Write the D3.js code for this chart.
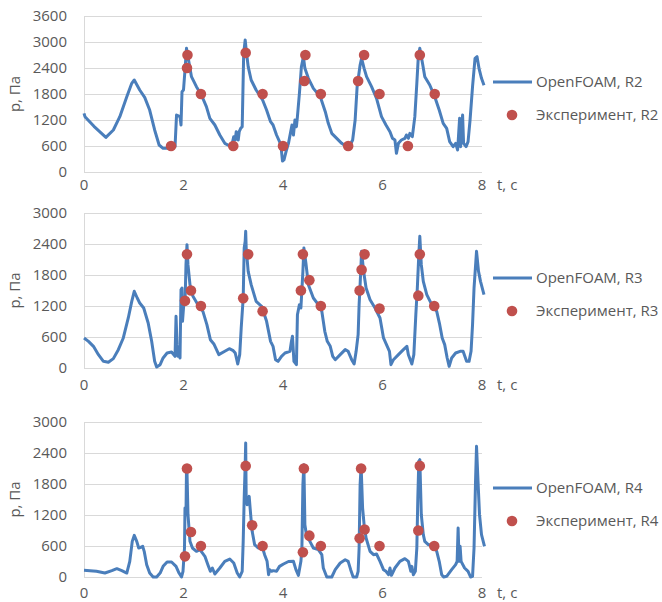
<!DOCTYPE html>
<html>
<head>
<meta charset="utf-8">
<script src="https://cdn.jsdelivr.net/npm/d3@7"></script>
<style>
  body { margin: 0; background: #fff; }
  svg { display: block; }
  text { font-family: "Open Sans", "Liberation Sans", Arial, sans-serif; fill: #595959; }
</style>
</head>
<body>
<svg id="chart" width="662" height="602"></svg>
<script>
// t, s ; p, Pa  -- OpenFOAM probe R2
var simR2 = [[0,1354],[0.02,1277],[0.2,1054],[0.44,800],[0.59,969],[0.72,1277],[0.86,1738],[0.96,2046],[1.01,2123],
  [1.12,1892],[1.22,1723],[1.32,1430],[1.42,970],[1.51,623],[1.59,546],[1.73,546],[1.83,585],[1.86,1315],[1.93,1277],
  [1.95,1085],[1.97,1853],[2.0,1892],[2.03,2354],[2.06,2854],[2.09,2661],[2.16,2200],[2.26,1969],[2.36,1777],[2.46,1508],
  [2.53,1238],[2.63,1085],[2.73,854],[2.83,661],[2.93,600],[2.98,661],[3.01,815],[3.04,738],[3.06,930],[3.10,738],
  [3.12,930],[3.15,1007],[3.18,1046],[3.21,2738],[3.24,3046],[3.26,2815],[3.30,2431],[3.36,2123],[3.46,1892],[3.59,1661],
  [3.67,1430],[3.75,1161],[3.80,1085],[3.87,854],[3.93,700],[3.96,585],[3.99,254],[4.02,280],[4.07,508],[4.11,661],
  [4.18,1084],[4.21,854],[4.24,1200],[4.27,1046],[4.29,1277],[4.33,1815],[4.37,2430],[4.41,2661],[4.44,2392],[4.51,2161],
  [4.61,1930],[4.75,1738],[4.85,1392],[4.91,1123],[4.98,892],[5.08,777],[5.18,661],[5.28,585],[5.35,623],[5.40,738],
  [5.45,1200],[5.49,1969],[5.55,2469],[5.58,2623],[5.63,2392],[5.68,2200],[5.78,1969],[5.88,1700],[5.98,1277],[6.07,1084],
  [6.15,930],[6.20,777],[6.25,738],[6.28,430],[6.32,661],[6.38,738],[6.45,777],[6.48,854],[6.52,777],[6.55,892],
  [6.60,815],[6.65,1277],[6.69,2046],[6.72,2661],[6.75,2854],[6.81,2469],[6.85,2200],[6.95,2007],[7.05,1738],[7.14,1430],
  [7.22,1123],[7.29,1007],[7.35,700],[7.42,585],[7.47,661],[7.51,508],[7.55,1238],[7.57,585],[7.61,1315],[7.63,661],
  [7.68,585],[7.72,700],[7.76,1200],[7.81,1969],[7.86,2623],[7.90,2661],[7.94,2392],[7.99,2161],[8.04,2000]];
var expR2 = [[1.75,600],[2.08,2700],[2.07,2400],[2.35,1800],[3.0,600],[3.25,2750],[3.59,1800],[4.0,600],[4.45,2700],
  [4.43,2100],[4.76,1800],[5.31,600],[5.63,2700],[5.51,2100],[5.94,1800],[6.51,600],[6.75,2700],[7.05,1800]];

// probe R3
var simR3 = [[0,581],[0.09,516],[0.19,419],[0.29,258],[0.39,129],[0.49,110],[0.59,181],[0.69,355],[0.79,581],[0.89,968],
  [0.96,1290],[1.01,1484],[1.07,1355],[1.12,1258],[1.20,1161],[1.29,871],[1.36,516],[1.42,129],[1.46,19],[1.53,65],
  [1.59,194],[1.67,290],[1.76,310],[1.83,226],[1.85,1000],[1.87,452],[1.89,226],[1.91,387],[1.93,194],[1.95,1516],
  [1.97,1548],[1.98,903],[2.01,1290],[2.03,1226],[2.05,2000],[2.07,2387],[2.09,2000],[2.13,1613],[2.19,1387],[2.29,1226],
  [2.39,1097],[2.47,839],[2.54,548],[2.61,465],[2.71,258],[2.83,323],[2.92,374],[3.0,335],[3.04,290],[3.09,77],
  [3.13,258],[3.16,774],[3.20,1355],[3.22,2323],[3.24,2452],[3.25,2645],[3.26,2323],[3.30,1871],[3.36,1613],[3.46,1290],
  [3.57,1194],[3.67,903],[3.75,516],[3.80,419],[3.85,161],[3.90,129],[3.97,226],[4.04,290],[4.14,323],[4.17,516],
  [4.19,613],[4.22,129],[4.27,65],[4.29,1032],[4.33,1226],[4.36,1161],[4.40,1871],[4.42,2323],[4.46,2032],[4.51,1613],
  [4.61,1355],[4.71,1226],[4.78,1097],[4.84,710],[4.89,516],[4.95,419],[5.0,226],[5.05,161],[5.15,258],[5.25,355],
  [5.31,323],[5.38,161],[5.43,77],[5.47,323],[5.51,645],[5.53,1226],[5.55,1613],[5.58,2258],[5.62,1871],[5.67,1548],
  [5.75,1323],[5.85,1161],[5.95,968],[6.02,581],[6.08,452],[6.14,323],[6.17,65],[6.22,161],[6.32,258],[6.42,355],
  [6.49,419],[6.52,258],[6.59,77],[6.63,258],[6.67,1032],[6.70,1548],[6.73,2194],[6.75,2550],[6.78,2000],[6.82,1677],
  [6.89,1419],[6.99,1226],[7.09,1097],[7.15,839],[7.20,581],[7.25,452],[7.30,194],[7.34,32],[7.39,194],[7.47,290],
  [7.56,323],[7.62,323],[7.69,129],[7.74,129],[7.78,323],[7.81,839],[7.84,1548],[7.89,2258],[7.93,1871],[7.97,1677],
  [8.04,1419]];
var expR3 = [[2.03,1300],[2.07,2200],[2.15,1500],[2.35,1200],[3.2,1350],[3.3,2200],[3.59,1100],[4.36,1500],[4.4,2200],
  [4.53,1700],[4.76,1200],[5.54,1500],[5.58,1900],[5.64,2200],[5.94,1150],[6.72,1400],[6.75,2200],[7.04,1200]];

// probe R4
var simR4 = [[0,129],[0.12,123],[0.25,110],[0.42,77],[0.56,123],[0.66,161],[0.76,123],[0.86,77],[0.92,303],[0.97,690],
  [1.01,806],[1.06,690],[1.10,561],[1.14,574],[1.18,594],[1.21,497],[1.26,239],[1.32,77],[1.39,0],[1.46,0],
  [1.53,77],[1.59,206],[1.67,290],[1.76,290],[1.85,206],[1.91,77],[1.96,0],[1.99,110],[2.02,561],[2.03,1335],
  [2.05,1206],[2.06,2077],[2.07,2050],[2.09,1206],[2.13,690],[2.18,561],[2.26,497],[2.33,529],[2.43,400],[2.49,239],
  [2.54,110],[2.58,174],[2.63,58],[2.73,174],[2.83,303],[2.93,348],[3.01,271],[3.08,77],[3.13,0],[3.18,110],
  [3.20,690],[3.22,1529],[3.24,2174],[3.25,2594],[3.26,1529],[3.28,1400],[3.32,1561],[3.35,1206],[3.38,884],[3.43,626],
  [3.50,561],[3.59,561],[3.63,432],[3.68,303],[3.71,45],[3.73,142],[3.77,110],[3.80,123],[3.87,110],[3.93,206],
  [4.01,252],[4.11,300],[4.21,303],[4.26,142],[4.31,32],[4.36,303],[4.38,561],[4.40,1787],[4.42,2174],[4.44,1013],
  [4.47,819],[4.54,690],[4.61,561],[4.71,529],[4.78,432],[4.81,174],[4.88,0],[4.98,0],[5.05,142],[5.15,271],
  [5.25,335],[5.31,303],[5.36,142],[5.41,0],[5.48,0],[5.51,110],[5.53,561],[5.55,1787],[5.57,2150],[5.60,1335],
  [5.63,1013],[5.67,755],[5.75,497],[5.82,432],[5.88,445],[5.95,303],[6.02,142],[6.07,110],[6.12,45],[6.15,174],
  [6.18,32],[6.25,174],[6.35,303],[6.45,355],[6.52,303],[6.57,110],[6.59,206],[6.62,45],[6.66,110],[6.69,561],
  [6.71,1529],[6.73,2239],[6.75,2271],[6.78,1206],[6.82,819],[6.85,690],[6.92,626],[7.02,626],[7.09,497],[7.14,303],
  [7.19,45],[7.23,0],[7.29,13],[7.39,142],[7.47,239],[7.50,303],[7.52,948],[7.54,303],[7.56,594],[7.58,303],
  [7.65,174],[7.72,110],[7.77,0],[7.81,13],[7.84,561],[7.87,1852],[7.89,2529],[7.92,1852],[7.95,1206],[7.99,819],
  [8.05,594]];
var expR4 = [[2.03,400],[2.07,2100],[2.15,870],[2.35,600],[3.25,2150],[3.38,1000],[3.59,600],[4.40,480],[4.42,2100],
  [4.53,800],[4.76,600],[5.54,750],[5.57,2100],[5.64,920],[5.94,600],[6.72,900],[6.75,2150],[7.04,600]];

var xTicks = [0, 2, 4, 6, 8];
var yTicksR2 = [0, 600, 1200, 1800, 2400, 3000, 3600];
var yTicksR34 = [0, 600, 1200, 1800, 2400, 3000];
var seriesNames = ["R2", "R3", "R4"];

var LINE = "#4A7EBB", DOT = "#C0504D", GRID = "#D9D9D9";
var svg = d3.select("#chart");

var panels = [
  {top: 16, bottom: 172, ticks: yTicksR2, sim: simR2, exp: expR2, name: seriesNames[0], xlab: 13, legY: 82},
  {top: 213, bottom: 368, ticks: yTicksR34, sim: simR3, exp: expR3, name: seriesNames[1], xlab: 17, legY: 278},
  {top: 422, bottom: 577, ticks: yTicksR34, sim: simR4, exp: expR4, name: seriesNames[2], xlab: 16, legY: 488}
];

var x = d3.scaleLinear().domain([0, 8]).range([84, 482]);

panels.forEach(function (pn) {
  var y = d3.scaleLinear().domain([0, d3.max(pn.ticks)]).range([pn.bottom, pn.top]);
  var g = svg.append("g");

  // grid
  g.selectAll(".grid").data(pn.ticks).enter().append("line")
    .attr("x1", x(0)).attr("x2", x(8))
    .attr("y1", function (d) { return y(d) + 0.5; })
    .attr("y2", function (d) { return y(d) + 0.5; })
    .attr("stroke", GRID).attr("stroke-width", 1);
  g.append("line")
    .attr("x1", x(0) + 0.5).attr("x2", x(0) + 0.5)
    .attr("y1", pn.top).attr("y2", pn.bottom)
    .attr("stroke", GRID).attr("stroke-width", 1);

  // y tick labels
  g.selectAll(".ylab").data(pn.ticks).enter().append("text")
    .attr("x", 67).attr("y", function (d) { return y(d); })
    .attr("dy", "0.35em").attr("text-anchor", "end")
    .style("font-size", "15px")
    .text(function (d) { return d; });

  // x tick labels
  g.selectAll(".xlab").data(xTicks).enter().append("text")
    .attr("x", function (d) { return x(d); })
    .attr("y", pn.bottom + pn.xlab)
    .attr("dy", "0.35em").attr("text-anchor", "middle")
    .style("font-size", "15px")
    .text(function (d) { return d; });

  g.append("text")
    .attr("x", 497).attr("y", pn.bottom + pn.xlab)
    .attr("dy", "0.35em")
    .style("font-size", "15px")
    .text("t, с");

  g.append("text")
    .attr("transform", "translate(15," + ((pn.top + pn.bottom) / 2) + ") rotate(-90)")
    .attr("dy", "0.35em").attr("text-anchor", "middle")
    .style("font-size", "15px")
    .text("p, Па");

  // simulation curve
  var line = d3.line()
    .x(function (d) { return x(d[0]); })
    .y(function (d) { return y(d[1]); });
  g.append("path")
    .datum(pn.sim)
    .attr("d", line)
    .attr("fill", "none")
    .attr("stroke", LINE)
    .attr("stroke-width", 3)
    .attr("stroke-linejoin", "round");

  // experiment points
  g.selectAll(".dot").data(pn.exp).enter().append("circle")
    .attr("cx", function (d) { return x(d[0]); })
    .attr("cy", function (d) { return y(d[1]); })
    .attr("r", 5.3)
    .attr("fill", DOT);

  // legend
  g.append("line")
    .attr("x1", 493).attr("x2", 532)
    .attr("y1", pn.legY).attr("y2", pn.legY)
    .attr("stroke", LINE).attr("stroke-width", 3);
  g.append("text")
    .attr("x", 536).attr("y", pn.legY).attr("dy", "0.35em")
    .style("font-size", "15px")
    .text("OpenFOAM, " + pn.name);
  g.append("circle")
    .attr("cx", 512).attr("cy", pn.legY + 33).attr("r", 5.3)
    .attr("fill", DOT);
  g.append("text")
    .attr("x", 536).attr("y", pn.legY + 33).attr("dy", "0.35em")
    .style("font-size", "15px")
    .text("Эксперимент, " + pn.name);
});
</script>
</body>
</html>
